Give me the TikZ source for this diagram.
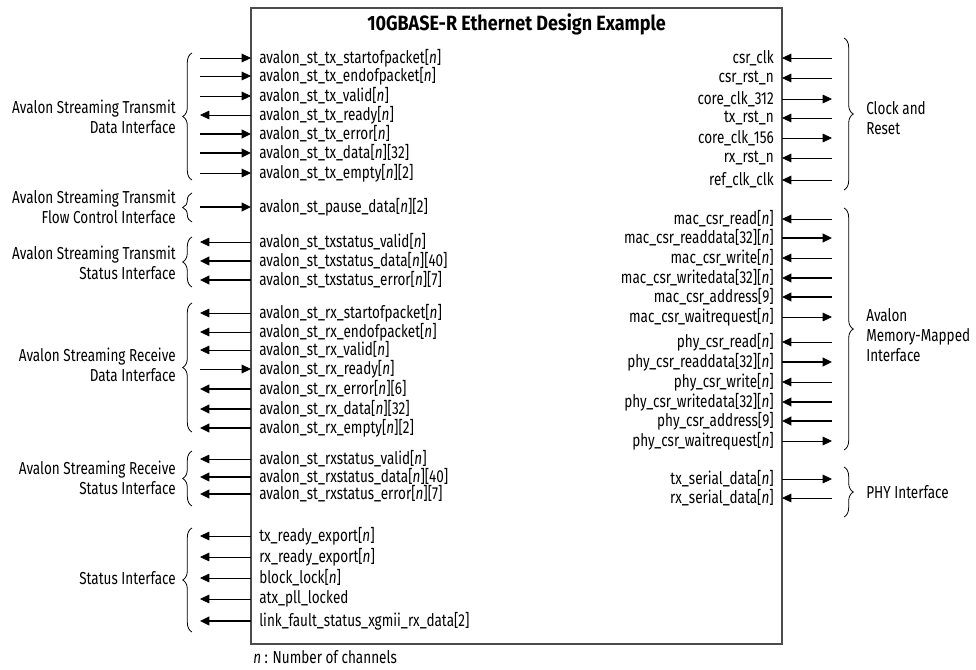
\documentclass[tikz,border=0pt]{standalone}
\usepackage{fontspec}
\setmainfont{Fira Sans}[FakeStretch=0.78]
\newfontfamily\titlefont{Fira Sans}[FakeStretch=0.87]
\usetikzlibrary{positioning, arrows.meta, decorations.pathreplacing, calc}

\newcommand{\nn}{[\textit{n}]}

\begin{document}
\begin{tikzpicture}[
    x=0.75pt, y=-0.75pt,
    every node/.style={font=\fontsize{13}{15}\selectfont, inner sep=0pt},
    core/.style ={draw=black!70, line width=0.8pt, anchor=north west, minimum width=398.25pt, minimum height=477pt, outer sep=0pt},
    title/.style={font=\titlefont\fontsize{15.5}{18}\selectfont\bfseries},
    sigl/.style ={anchor=west},
    sigr/.style ={anchor=east},
    grpl/.style ={align=right, anchor=east},
    grpr/.style ={align=left, anchor=west},
    wire/.style ={line width=0.6pt},
    bus/.style  ={line width=1.3pt},
    sigin/.style ={-{Triangle[length=7pt, width=6.5pt]}},
    sigout/.style={{Triangle[length=7pt, width=6.5pt]}-},
    brace/.style={decorate, decoration={brace, amplitude=7pt}, line width=0.6pt}
]
\useasboundingbox (0,0) rectangle (976,669);

% Design example block
\node[core] (core) at (251,8) {};
\node[title, below=12.5pt of core.north, anchor=center] (title) {10GBASE-R Ethernet Design Example};

% Left-hand signals
\foreach \y/\txt/\dir/\w [count=\i] in {
    58/avalon\_st\_tx\_startofpacket\nn/sigin/wire,
    76/avalon\_st\_tx\_endofpacket\nn/sigin/wire,
    96/avalon\_st\_tx\_valid\nn/sigin/wire,
    115/avalon\_st\_tx\_ready\nn/sigout/wire,
    134/avalon\_st\_tx\_error\nn/sigin/bus,
    153/avalon\_st\_tx\_data\nn[32]/sigin/bus,
    173/avalon\_st\_tx\_empty\nn[2]/sigin/wire,
    207/avalon\_st\_pause\_data\nn[2]/sigin/bus,
    242/avalon\_st\_txstatus\_valid\nn/sigout/wire,
    261/avalon\_st\_txstatus\_data\nn[40]/sigout/bus,
    280/avalon\_st\_txstatus\_error\nn[7]/sigout/bus,
    313/avalon\_st\_rx\_startofpacket\nn/sigout/wire,
    332/avalon\_st\_rx\_endofpacket\nn/sigout/wire,
    350/avalon\_st\_rx\_valid\nn/sigout/wire,
    369/avalon\_st\_rx\_ready\nn/sigin/wire,
    389/avalon\_st\_rx\_error\nn[6]/sigout/bus,
    409/avalon\_st\_rx\_data\nn[32]/sigout/bus,
    428/avalon\_st\_rx\_empty\nn[2]/sigout/bus,
    459/avalon\_st\_rxstatus\_valid\nn/sigout/wire,
    477/avalon\_st\_rxstatus\_data\nn[40]/sigout/bus,
    494/avalon\_st\_rxstatus\_error\nn[7]/sigout/bus,
    536/tx\_ready\_export\nn/sigout/wire,
    557/rx\_ready\_export\nn/sigout/wire,
    578/block\_lock\nn/sigout/wire,
    599/atx\_pll\_locked/sigout/wire,
    621/link\_fault\_status\_xgmii\_rx\_data[2]/sigout/bus}
{
    \node[sigl] (ls\i) at (259,\y) {\txt};
    \coordinate (le\i) at (251,\y);
    \coordinate (lo\i) at (200,\y);
    \draw[\w, \dir] (lo\i) -- (le\i);
}

% Right-hand signals
\foreach \y/\txt/\dir/\w [count=\i] in {
    58/csr\_clk/sigin/wire,
    78/csr\_rst\_n/sigin/wire,
    99/core\_clk\_312/sigout/wire,
    118/tx\_rst\_n/sigin/wire,
    138/core\_clk\_156/sigout/wire,
    158/rx\_rst\_n/sigin/wire,
    180/ref\_clk\_clk/sigin/wire,
    219/mac\_csr\_read\nn/sigin/wire,
    238/mac\_csr\_readdata[32]\nn/sigout/bus,
    258/mac\_csr\_write\nn/sigin/wire,
    278/mac\_csr\_writedata[32]\nn/sigin/bus,
    297/mac\_csr\_address[9]/sigin/bus,
    317/mac\_csr\_waitrequest\nn/sigout/wire,
    342/phy\_csr\_read\nn/sigin/wire,
    362/phy\_csr\_readdata[32]\nn/sigout/bus,
    382/phy\_csr\_write\nn/sigin/wire,
    402/phy\_csr\_writedata[32]\nn/sigin/bus,
    421/phy\_csr\_address[9]/sigin/bus,
    441/phy\_csr\_waitrequest\nn/sigout/wire,
    479/tx\_serial\_data\nn/sigout/wire,
    498/rx\_serial\_data\nn/sigin/wire}
{
    \node[sigr] (rs\i) at (774,\y) {\txt};
    \coordinate (re\i) at (782,\y);
    \coordinate (ro\i) at (832,\y);
    \draw[\w, \dir] (ro\i) -- (re\i);
}

% Left-hand interface groups
\coordinate (txdA) at (192,180); \coordinate (txdB) at (192,53);
\draw[brace] (txdA) -- (txdB);
\node[grpl] (txd) at (176,117) {Avalon Streaming Transmit\\Data Interface};

\coordinate (flcA) at (192,222); \coordinate (flcB) at (192,193);
\draw[brace] (flcA) -- (flcB);
\node[grpl] (flc) at (176,207) {Avalon Streaming Transmit\\Flow Control Interface};

\coordinate (txsA) at (192,287); \coordinate (txsB) at (192,237);
\draw[brace] (txsA) -- (txsB);
\node[grpl] (txs) at (176,263) {Avalon Streaming Transmit\\Status Interface};

\coordinate (rxdA) at (192,432); \coordinate (rxdB) at (192,303);
\draw[brace] (rxdA) -- (rxdB);
\node[grpl] (rxd) at (176,365) {Avalon Streaming Receive\\Data Interface};

\coordinate (rxsA) at (192,506); \coordinate (rxsB) at (192,451);
\draw[brace] (rxsA) -- (rxsB);
\node[grpl] (rxs) at (176,478) {Avalon Streaming Receive\\Status Interface};

\coordinate (staA) at (192,632); \coordinate (staB) at (192,528);
\draw[brace] (staA) -- (staB);
\node[grpl] (sta) at (176,578) {Status Interface};

% Right-hand interface groups
\coordinate (clkA) at (844,38); \coordinate (clkB) at (844,190);
\draw[brace] (clkA) -- (clkB);
\node[grpr] (clk) at (866,118) {Clock and\\Reset};

\coordinate (mmA) at (844,208); \coordinate (mmB) at (844,450);
\draw[brace] (mmA) -- (mmB);
\node[grpr] (mm) at (866,335) {Avalon\\Memory-Mapped\\Interface};

\coordinate (phyA) at (844,467); \coordinate (phyB) at (844,517);
\draw[brace] (phyA) -- (phyB);
\node[grpr] (phy) at (866,492) {PHY Interface};

% Footnote
\node[anchor=west] (note) at (253,657) {\textit{n} : Number of channels};
\end{tikzpicture}
\end{document}
